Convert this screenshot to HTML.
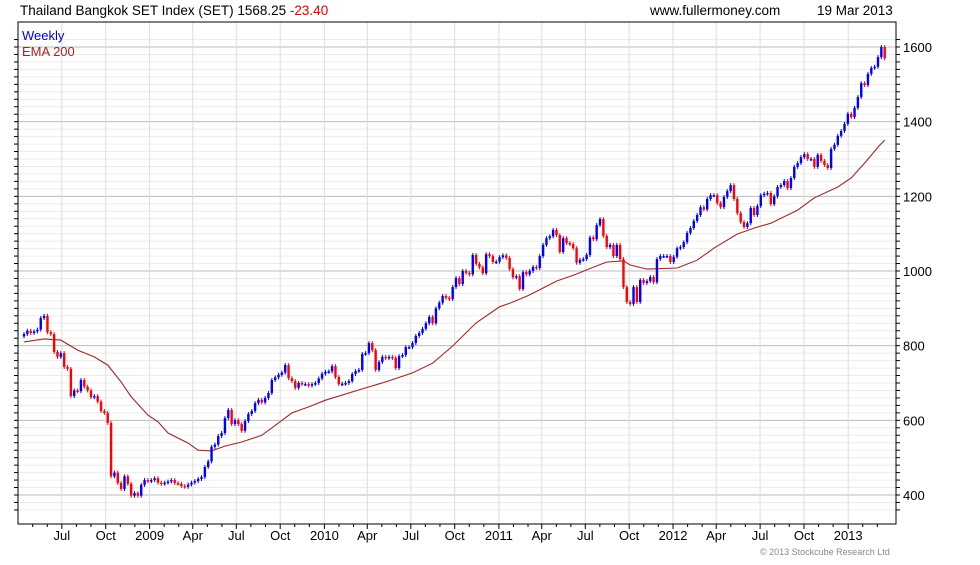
<!DOCTYPE html>
<html><head><meta charset="utf-8"><style>
body{margin:0;background:#fff;width:980px;height:560px;overflow:hidden;font-family:"Liberation Sans",sans-serif}
</style></head><body>
<svg id="chart" width="980" height="560" xmlns="http://www.w3.org/2000/svg" font-family="Liberation Sans, sans-serif">
<text x="20" y="15" font-size="13.5" fill="#000">Thailand Bangkok SET Index (SET) 1568.25 <tspan fill="#e00000">-23.40</tspan></text>
<text x="650" y="15" font-size="13.5" fill="#000">www.fullermoney.com</text>
<text x="817" y="15" font-size="13.5" fill="#000">19 Mar 2013</text>
<g id="grid"></g><g id="ema"></g><g id="candles"></g><g id="axes"></g>
<text x="22" y="40" font-size="13" fill="#0000dd">Weekly</text>
<text x="22" y="56" font-size="13" fill="#aa2222">EMA 200</text>
<text x="760" y="555" font-size="9" fill="#888">© 2013 Stockcube Research Ltd</text>
</svg>
<script>
const closes=[831,840,834,838,843,874,880,836,831,783,770,780,743,738,665,680,678,708,690,680,662,665,650,625,620,593,450,460,432,416,450,430,398,405,398,427,440,437,440,445,433,430,433,436,440,432,430,424,422,428,433,437,443,448,475,490,529,535,558,566,606,628,590,600,590,572,598,617,625,646,655,648,660,673,708,715,722,728,748,713,705,687,700,697,697,693,697,700,712,725,730,731,
745,716,697,698,700,705,724,732,735,778,780,807,788,735,756,770,767,770,767,740,772,775,796,796,807,826,834,845,860,877,860,900,915,933,928,925,957,981,965,1000,995,991,1043,1019,1010,994,1045,1040,1024,1025,1037,1042,1035,1005,983,986,952,997,991,1000,1011,1008,1040,1070,1088,1093,1110,1096,1051,1088,1075,1072,1061,1022,1030,1032,1043,1090,1085,1123,1139,1094,1064,1070,1040,1070,1032,957,
917,912,957,917,976,968,973,984,970,1032,1040,1040,1040,1024,1038,1061,1064,1077,1102,1115,1134,1150,1171,1165,1193,1203,1203,1182,1171,1198,1214,1230,1193,1155,1131,1118,1128,1169,1150,1174,1203,1207,1209,1179,1200,1225,1230,1241,1222,1249,1279,1289,1305,1313,1300,1300,1279,1311,1295,1284,1276,1327,1338,1362,1375,1394,1421,1412,1437,1466,1503,1498,1528,1544,1547,1573,1600,1570];
const firstOpen=825;
const emaWeeks=[0,6,11,16,21,25,29,32,37,40,43,49,52,56,60,65,71,76,80,85,90,102,108,116,122,128,135,142,146,151,159,165,168,174,179,181,186,195,201,206,213,218,223,231,236,243,247,251,255,257];
const emaValues=[810,818,815,788,770,748,703,663,614,596,566,539,520,518,531,542,560,593,620,636,654,687,703,727,753,799,861,904,917,936,973,992,1003,1024,1027,1016,1005,1008,1029,1061,1099,1115,1128,1163,1196,1225,1249,1289,1332,1351];
const yTicks=[400,600,800,1000,1200,1400,1600];
const xLabels=["Jul","Oct","2009","Apr","Jul","Oct","2010","Apr","Jul","Oct","2011","Apr","Jul","Oct","2012","Apr","Jul","Oct","2013"];
const xLabelWeeks=[11.3,24.4,37.5,50.4,63.4,76.5,89.7,102.5,115.5,128.6,141.8,154.6,167.6,180.7,193.8,206.7,219.8,232.9,246.1];

const L=18,T=22,R=896,B=524;
const xs=w=>24+w*3.349;
const ys=p=>271-(p-1000)*0.37333;
const NS="http://www.w3.org/2000/svg";
function mk(tag,attrs,parent){const e=document.createElementNS(NS,tag);for(const k in attrs)e.setAttribute(k,attrs[k]);parent.appendChild(e);return e;}
const grid=document.getElementById('grid'),axes=document.getElementById('axes');
for(let p=360;p<=1620;p+=20){const y=ys(p);if(y<T||y>B)continue;
 const major=p%200===0;
 const gl=mk('line',{x1:L,x2:R,y1:y,y2:y,stroke:major?'#bbbbbb':'#ececec','stroke-width':1},grid);
 
 
 mk('line',{x1:R,x2:R+4,y1:y,y2:y,stroke:'#000'},axes);
 mk('line',{x1:L-4,x2:L,y1:y,y2:y,stroke:'#000'},axes);
}
xLabelWeeks.forEach((w,i)=>{const x=xs(w);
 const vl=mk('line',{x1:x,x2:x,y1:T,y2:B,stroke:'#dddddd'},grid);
 
 
 mk('line',{x1:x,x2:x,y1:B,y2:B+5,stroke:'#000'},axes);
 const t=mk('text',{x:x,y:540,'font-size':13,'text-anchor':'middle',fill:'#000'},axes);t.textContent=xLabels[i];
 
 
 for(let m=1;m<3;m++){const xm=xs(w+m*4.35);if(xm<R) mk('line',{x1:xm,x2:xm,y1:B,y2:B+3,stroke:'#000'},axes);}
});
mk('line',{x1:xs(11.3-4.35),x2:xs(11.3-4.35),y1:B,y2:B+3,stroke:'#000'},axes);
mk('line',{x1:xs(11.3-8.7),x2:xs(11.3-8.7),y1:B,y2:B+3,stroke:'#000'},axes);
yTicks.forEach(p=>{const t=mk('text',{x:903,y:ys(p)+5,'font-size':13,fill:'#000'},axes);t.textContent=p;
 
 });
const frame=mk('rect',{x:L,y:T,width:R-L,height:B-T,fill:'none',stroke:'#000','stroke-width':1},axes);


// EMA
const pts=emaWeeks.map((w,i)=>xs(w).toFixed(1)+','+ys(emaValues[i]).toFixed(1)).join(' ');
const ema=mk('polyline',{points:pts,fill:'none',stroke:'#a02828','stroke-width':1.1},document.getElementById('ema'));


// candles
const cg=document.getElementById('candles');
closes.forEach((c,i)=>{const o=i===0?firstOpen:closes[i-1];const up=c>=o;
 const y1=ys(Math.max(o,c)),y2=ys(Math.min(o,c));const x=xs(i);
 const col=up?'#0000ff':'#ff0000';
 const r=mk('rect',{x:x-1.2,y:y1,width:2.4,height:Math.max(1.5,y2-y1),fill:col},cg);
 
 
 const wk=mk('line',{x1:x,x2:x,y1:y1-2,y2:y2+2,stroke:col,'stroke-width':1},cg);
 
 
});
</script>
</body></html>
